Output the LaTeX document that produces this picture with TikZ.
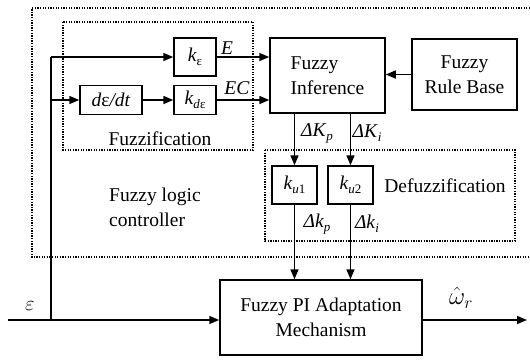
\documentclass[tikz,border=0pt]{standalone}
\usepackage{fontspec}
\setmainfont{Liberation Serif}
\usetikzlibrary{arrows.meta}
\newcommand{\sbs}[1]{\raisebox{-0.45ex}{\fontsize{13}{13}\selectfont #1}}
\begin{document}
\begin{tikzpicture}[x=1pt,y=-1pt,
  font=\fontsize{19.5}{25}\selectfont,
  blk/.style={draw,line width=1.5pt,inner sep=0pt},
  dotbox/.style={line width=1.4pt,dash pattern=on 1.3pt off 1.3pt},
  conn/.style={line width=1.5pt},
  arr/.style={conn,-{Triangle[length=10pt,width=8pt]}},
  lbl/.style={inner sep=0pt}]
\useasboundingbox (0,0) rectangle (530,360);
% dotted frames
\draw[dotbox] (530,8) -- (32,8) -- (32,257) -- (530,257);
\draw[dotbox] (63,22) rectangle (253,150);
\draw[dotbox] (265,150) rectangle (515,241);
% blocks
\node[blk,minimum width=42pt,minimum height=38pt] (ke) at (195,57) {\textit{k}\sbs{ε}};
\node[blk,minimum width=62pt,minimum height=29pt] (ddt) at (111,100) {\textit{d}ε\textit{/dt}};
\node[blk,minimum width=42pt,minimum height=29pt] (kde) at (195,100) {\textit{k}\sbs{\textit{d}ε}};
\node[blk,minimum width=115pt,minimum height=75pt,align=left] (fi) at (327.5,75.5) {Fuzzy\\Inference};
\node[blk,minimum width=105pt,minimum height=71pt,align=center] (frb) at (464.5,74.5) {Fuzzy\\Rule Base};
\node[blk,minimum width=45pt,minimum height=38pt] (ku1) at (294.5,185) {\textit{k}\sbs{\textit{u}1}};
\node[blk,minimum width=45pt,minimum height=38pt] (ku2) at (350.5,185) {\textit{k}\sbs{\textit{u}2}};
\node[blk,minimum width=202pt,minimum height=75pt,align=center] (pi) at (321,317.5) {Fuzzy PI Adaptation\\Mechanism};
% labels
\node[lbl] (lfuz) at (160,139) {Fuzzification};
\node[lbl] (ldef) at (445,186) {Defuzzification};
\node[lbl,anchor=west,align=left] (lflc) at (109,207.5) {Fuzzy logic\\controller};
\node[lbl] (lE) at (227,48) {\textit{E}};
\node[lbl] (lEC) at (237,88) {\textit{EC}};
\node[lbl] (lKp) at (317,133) {\textit{ΔK}\sbs{\textit{p}}};
\node[lbl] (lKi) at (367,133) {\textit{ΔK}\sbs{\textit{i}}};
\node[lbl] (lkp) at (317,224) {\textit{Δk}\sbs{\textit{p}}};
\node[lbl] (lki) at (367,224) {\textit{Δk}\sbs{\textit{i}}};
\node[lbl] (leps) at (30,306) {$\varepsilon$};
\node[lbl] (lw) at (461,298) {\fontsize{24}{24}\selectfont$\hat{\omega}_r$};
% connectors
\coordinate (in) at (8,320);
\coordinate (j) at (51,320);
\coordinate (out) at (527,320);
\draw[arr] (in) -- (pi.west |- in);
\draw[conn] (j) -- (j |- ke.west);
\draw[arr] (j |- ke.west) -- (ke.west);
\draw[arr] (j |- ddt.west) -- (ddt.west);
\draw[arr] (ddt.east) -- (kde.west);
\draw[arr] (ke.east) -- (ke.east -| fi.west);
\draw[arr] (kde.east) -- (kde.east -| fi.west);
\draw[arr] (frb.west) -- (frb.west -| fi.east);
\draw[arr] (fi.south -| ku1.north) -- (ku1.north);
\draw[arr] (fi.south -| ku2.north) -- (ku2.north);
\draw[arr] (ku1.south) -- (ku1.south |- pi.north);
\draw[arr] (ku2.south) -- (ku2.south |- pi.north);
\draw[arr] (pi.east |- out) -- (out);
\end{tikzpicture}
\end{document}
